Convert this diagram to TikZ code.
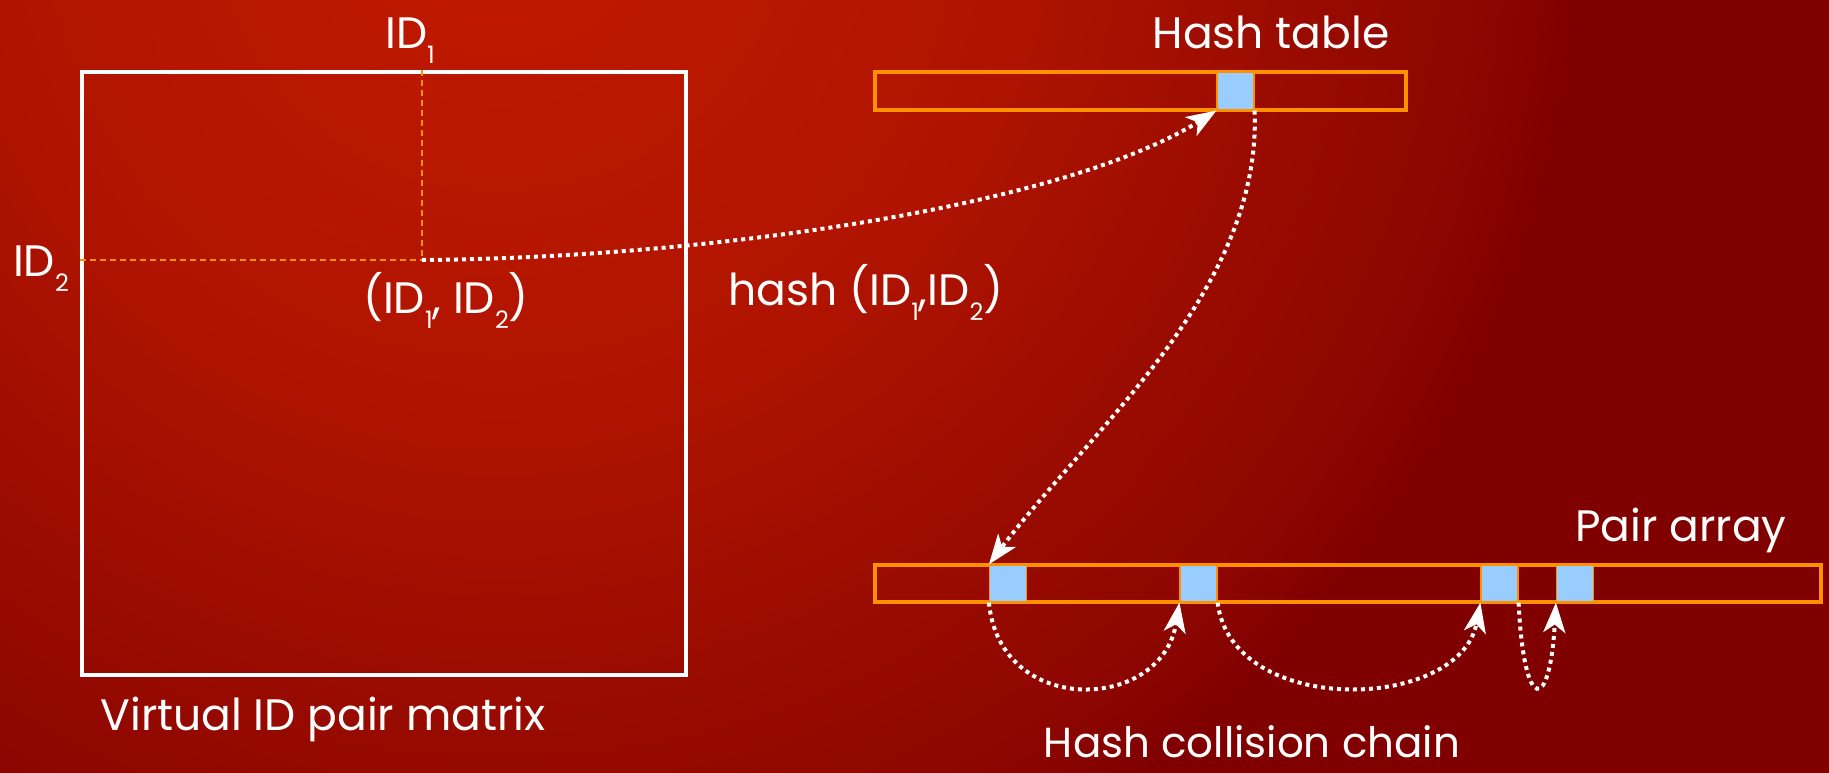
\documentclass[tikz,border=0pt]{standalone}
\usepackage{fontspec}
\setmainfont{Poppins}
\usetikzlibrary{arrows.meta}
\definecolor{bgA}{HTML}{C21A00}
\definecolor{bgB}{HTML}{B01400}
\definecolor{bgC}{HTML}{960A00}
\definecolor{bgD}{HTML}{8C0600}
\definecolor{bgE}{HTML}{800000}
\definecolor{barorange}{HTML}{FF9100}
\definecolor{cellblue}{HTML}{99CCFF}
\pgfdeclareradialshading{bgrad}{\pgfpoint{0bp}{0bp}}{color(0bp)=(bgA); color(8.93bp)=(bgB); color(15.18bp)=(bgC); color(17.86bp)=(bgD); color(19.29bp)=(bgE); color(50bp)=(bgE)}
\newcommand\idsub[1]{\raisebox{-15pt}{\fontsize{24}{24}\selectfont #1}}
\tikzset{
  lbl/.style={text=white, font=\fontsize{44}{50}\selectfont, inner sep=0pt, anchor=base},
  matbox/.style={draw=white, line width=3.5pt, minimum width=604pt, minimum height=603pt, inner sep=0pt},
  bar/.style={draw=barorange, line width=4pt, inner sep=0pt},
  cell/.style={draw=barorange, line width=1.2pt, fill=cellblue, minimum width=37pt, minimum height=37pt, inner sep=0pt},
  guide/.style={draw=barorange, line width=1.8pt, dash pattern=on 6pt off 4pt},
  chain/.style={draw=white, line width=4pt, dash pattern=on 4pt off 4pt, -{Stealth[length=30pt, width=22pt, inset=8pt]}},
}
\begin{document}
\begin{tikzpicture}[x=1pt, y=-1pt]
\useasboundingbox (0,0) rectangle (1829,773);
\begin{scope}
\clip (0,0) rectangle (1829,773);
\shade[shading=bgrad] (-900,-1500) rectangle (1900,1300);
\end{scope}

% matrix
\node[matbox] (mat) at (384,373.5) {};
\coordinate (p) at (422,260);
\draw[guide] (mat.north -| p) -- (p);
\draw[guide] (mat.west |- p) -- (p);
\node[lbl] (id1) at (410,49) {ID\idsub{1}};
\node[lbl] (id2) at (41,276) {ID\idsub{2}};
\node[lbl] (pair) at (446,313) {(ID\idsub{1}, ID\idsub{2})};
\node[lbl] (vm) at (323,730) {Virtual ID pair matrix};

% hash table
\node[bar, minimum width=531pt, minimum height=38pt] (ht) at (1140.5,91) {};
\node[cell, minimum height=38pt] (hc) at (1235.5,91) {};
\node[lbl] (htl) at (1271,49) {Hash table};

% pair array
\node[bar, minimum width=946pt, minimum height=37pt] (pa) at (1348,583.5) {};
\node[cell] (pc1) at (1008,583.5) {};
\node[cell] (pc2) at (1198.5,583.5) {};
\node[cell] (pc3) at (1499.5,583.5) {};
\node[cell] (pc4) at (1575,583.5) {};
\node[lbl] (pal) at (1681,541) {Pair array};
\node[lbl, font=\fontsize{42}{48}\selectfont] (hcc) at (1252,757) {Hash collision chain};
\node[lbl] (hf) at (866,305) {hash (ID\idsub{1},ID\idsub{2})};

% connectors
\draw[chain] (p) .. controls (700,258) and (1060,208) .. (hc.south west);
\draw[chain] (hc.south east) .. controls (1262,290) and (1090,430) .. (pc1.north west);
\draw[chain] (pc1.south west) .. controls (1000,718) and (1162,712) .. (pc2.south west);
\draw[chain] (pc2.south east) .. controls (1232,718) and (1460,712) .. (pc3.south west);
\draw[chain] (pc3.south east) .. controls (1524,716) and (1550,712) .. (pc4.south west);
\end{tikzpicture}
\end{document}
